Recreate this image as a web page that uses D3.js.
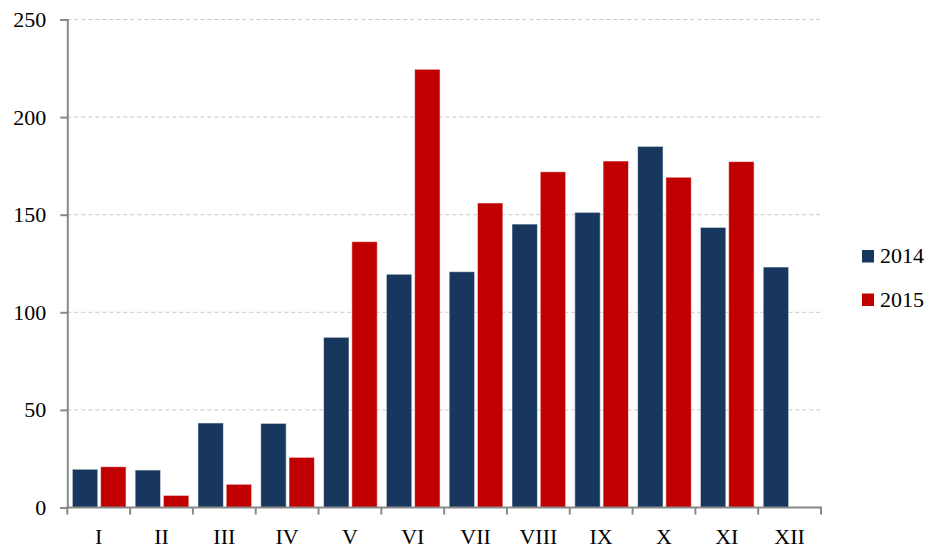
<!DOCTYPE html>
<html><head><meta charset="utf-8">
<script src="https://cdn.jsdelivr.net/npm/d3@7"></script>
<style>body{margin:0;background:#fff}svg{display:block}
svg text{font-family:"Liberation Serif","Times New Roman",Times,serif !important;font-size:22px;fill:#000}</style>
</head><body>
<svg id="c" width="930" height="550"></svg>
<script>
const categories = ["I","II","III","IV","V","VI","VII","VIII","IX","X","XI","XII"];
const seriesNames = ["2014","2015"];
const values2014 = [19.6,19.2,43.3,43.1,87.2,119.5,120.8,145.2,151.2,185,143.5,123.2];
const values2015 = [20.9,6.2,11.9,25.7,136.2,224.5,156,172,177.5,169.2,177.2,null];
const yTicks = [0,50,100,150,200,250];
const colors = ["#17375E","#C00000"];

const svg = d3.select("#c");
const m = {l:67.3, r:821, t:19.5, b:507.5};
const x = d3.scaleBand().domain(categories).range([m.l, m.r]).paddingInner(0).paddingOuter(0);
const y = d3.scaleLinear().domain([0,250]).range([m.b, m.t]);

// grid
svg.append("g").selectAll("line").data(yTicks.filter(d=>d>0)).join("line")
  .attr("x1", m.l).attr("x2", m.r)
  .attr("y1", d=>y(d)).attr("y2", d=>y(d))
  .attr("stroke","#c8c8c8").attr("stroke-width",1).attr("stroke-dasharray","4,3");

// bars
const bw = x.bandwidth();
const barW = bw*0.405;
const off = [bw*0.08, bw*0.08 + barW + bw*0.045];
const series = [values2014, values2015];
series.forEach((vals, si) => {
  svg.append("g").selectAll("rect").data(categories.map((c,i)=>({c, v: vals[i]})).filter(d=>d.v!=null)).join("rect")
    .attr("x", d=>x(d.c)+off[si])
    .attr("y", d=>y(d.v))
    .attr("width", barW)
    .attr("height", d=>y(0)-y(d.v))
    .attr("fill", colors[si])
    .attr("stroke", "rgba(255,255,255,0.55)").attr("stroke-width",1);
});

// y axis
const yAxis = d3.axisLeft(y).tickValues(yTicks).tickSize(7).tickPadding(14);
const gy = svg.append("g").attr("transform",`translate(${m.l},0)`).call(yAxis);
gy.attr("font-family",null).attr("font-size",null);
gy.select(".domain").attr("stroke","#898989").attr("stroke-width",2);
gy.selectAll(".tick line").attr("stroke","#898989").attr("stroke-width",2);
gy.selectAll(".tick text").attr("fill","#000");

// x axis
const xt = d3.scaleLinear().domain([0,12]).range([m.l,m.r]);
svg.append("line").attr("x1",m.l-1).attr("x2",m.r+1).attr("y1",m.b).attr("y2",m.b)
  .attr("stroke","#898989").attr("stroke-width",2);
svg.append("g").selectAll("line").data(d3.range(13)).join("line")
  .attr("x1",d=>xt(d)).attr("x2",d=>xt(d)).attr("y1",m.b).attr("y2",m.b+7)
  .attr("stroke","#898989").attr("stroke-width",2);
svg.append("g").selectAll("text").data(categories).join("text")
  .attr("x", d=>x(d)+bw/2).attr("y", 544)
  .attr("text-anchor","middle")
  .text(d=>d);

// legend
const lg = svg.append("g");
seriesNames.forEach((s,i)=>{
  const yy = 250 + i*43.5;
  lg.append("rect").attr("x",862).attr("y",yy).attr("width",12).attr("height",12.5).attr("fill",colors[i]);
  lg.append("text").attr("x",880).attr("y",yy+13).text(s);
});
</script>
</body></html>
